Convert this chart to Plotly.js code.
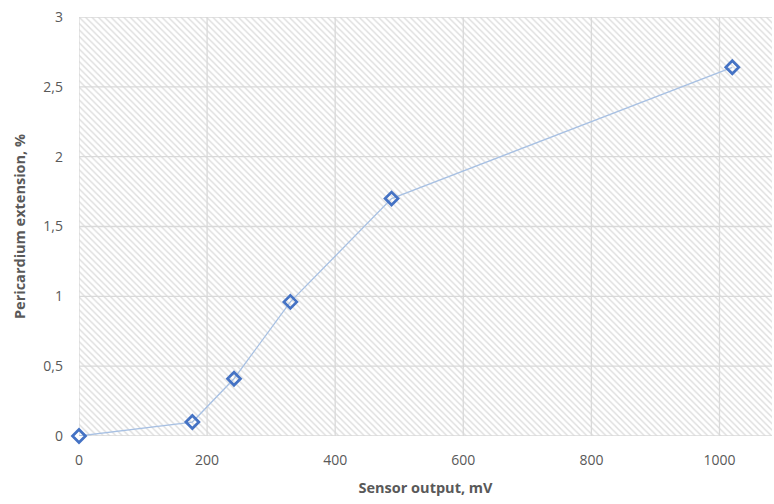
<!DOCTYPE html>
<html><head><meta charset="utf-8">
<script src="https://cdn.plot.ly/plotly-3.0.1.min.js"></script>
<style>html,body{margin:0;padding:0;background:#fff}#c{width:774px;height:504px}</style>
</head><body><div id="c"></div>
<script>
const sensorOutput = [0, 177, 242, 330, 488, 1020];
const extension = [0, 0.1, 0.41, 0.96, 1.7, 2.64];
const xRange = [0, 1082];
const yRange = [0, 3];
const xTicks = [0, 200, 400, 600, 800, 1000];
const yTicks = [0, 0.5, 1, 1.5, 2, 2.5, 3];

const bg = {
  x: [xRange[0], xRange[1], xRange[1], xRange[0], xRange[0]],
  y: [yRange[0], yRange[0], yRange[1], yRange[1], yRange[0]],
  mode: 'lines', line: {width: 0}, fill: 'toself', fillcolor: 'rgba(255,255,255,0)',
  fillpattern: {shape: '\\', fgcolor: '#dcdcdc', bgcolor: '#ffffff', size: 4.5, solidity: 0.3},
  hoverinfo: 'skip', showlegend: false
};
// grid lines built from tick arrays so they sit above the hatched background
const gx = [], gy = [];
xTicks.forEach(v => { gx.push(v, v, null); gy.push(yRange[0], yRange[1], null); });
yTicks.forEach(v => { gx.push(xRange[0], xRange[1], null); gy.push(v, v, null); });
const grid = {
  x: gx, y: gy, mode: 'lines', line: {color: '#d9d9d9', width: 1.3},
  hoverinfo: 'skip', showlegend: false, connectgaps: false
};
const data = {
  x: sensorOutput, y: extension, mode: 'lines+markers',
  line: {color: '#a7c0e3', width: 1.3},
  marker: {symbol: 'diamond-open', size: 10, color: '#4472c4', line: {width: 2.7, color: '#4472c4'}},
  showlegend: false, cliponaxis: false
};
const font = {family: 'Open Sans, Liberation Sans, sans-serif', color: '#595959'};
Plotly.newPlot('c', [bg, grid, data], {
  width: 774, height: 504,
  margin: {l: 79, r: 2, t: 17, b: 68},
  paper_bgcolor: '#fff', plot_bgcolor: '#fff',
  separators: ', ',
  font: font,
  xaxis: {range: xRange, tickvals: xTicks, showgrid: false,
    zeroline: false, showline: false, ticks: '',
    tickfont: {size: 14, color: '#595959'}, ticklabelstandoff: 14,
    title: {text: 'Sensor output, mV', font: {size: 14.5, color: '#595959', weight: 'bold'}, standoff: 14}},
  yaxis: {range: yRange, tickvals: yTicks, showgrid: false,
    zeroline: false, showline: false, ticks: '',
    tickfont: {size: 14, color: '#595959'}, ticklabelstandoff: 15,
    title: {text: 'Pericardium extension, %', font: {size: 14.5, color: '#595959', weight: 'bold'}, standoff: 14}}
}, {displayModeBar: false, staticPlot: true});
</script></body></html>
